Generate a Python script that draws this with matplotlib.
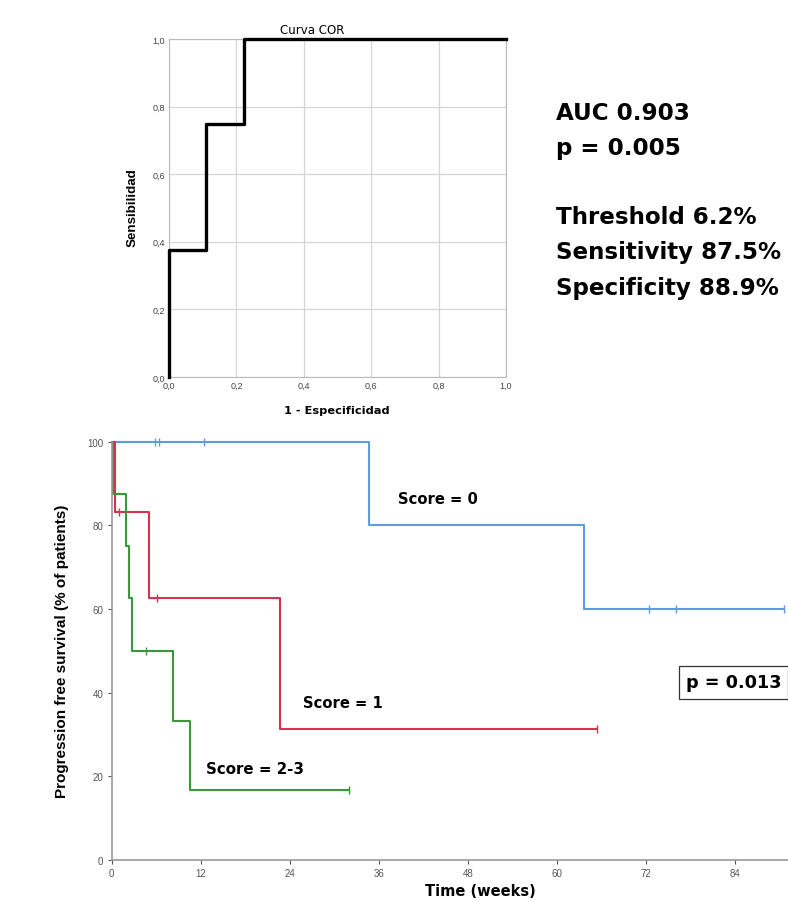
import matplotlib

matplotlib.use("Agg")
import matplotlib.pyplot as plt

plt.rcParams["font.family"] = ["Liberation Sans", "DejaVu Sans"]
WIDE = ["DejaVu Sans"]  # horizontal texts in the source look stretched sideways

# ROC curve (steps)
roc_fpr = [0.0, 0.0, 0.111, 0.111, 0.222, 0.222, 1.0]
roc_tpr = [0.0, 0.375, 0.375, 0.75, 0.75, 1.0, 1.0]
roc_ticks = [0.0, 0.2, 0.4, 0.6, 0.8, 1.0]
roc_ticklabels = ["0,0", "0,2", "0,4", "0,6", "0,8", "1,0"]
roc_stats = ["AUC 0.903", "p = 0.005", "", "Threshold 6.2%",
             "Sensitivity 87.5%", "Specificity 88.9%"]

# Kaplan-Meier curves: step start times and survival levels (%)
score0_t = [0, 34.7, 63.7, 90.6]
score0_s = [100, 80, 60, 60]
score0_cens_t = [5.8, 6.4, 12.4, 72.4, 76.1, 90.6]
score0_cens_s = [100, 100, 100, 60, 60, 60]

score1_t = [0, 0.5, 5.0, 22.7, 65.4]
score1_s = [100, 83.3, 62.5, 31.25, 31.25]
score1_cens_t = [1.0, 6.1, 65.4]
score1_cens_s = [83.3, 62.5, 31.25]

score23_t = [0, 0.2, 1.9, 2.3, 2.8, 8.2, 10.5, 32.0]
score23_s = [100, 87.5, 75, 62.5, 50, 33.3, 16.7, 16.7]
score23_cens_t = [4.6, 32.0]
score23_cens_s = [50, 16.7]

km_xticks = [0, 12, 24, 36, 48, 60, 72, 84]
km_yticks = [0, 20, 40, 60, 80, 100]

W, H = 788, 903
fig = plt.figure(figsize=(W / 100, H / 100), dpi=100)


def frac(x0, y0, x1, y1):
    return [x0 / W, 1 - y1 / H, (x1 - x0) / W, (y1 - y0) / H]


# ---- ROC panel
ax1 = fig.add_axes(frac(169, 40, 506, 378))
ax1.plot(roc_fpr, roc_tpr, color="black", lw=2.4, clip_on=False, zorder=3)
ax1.set_xlim(0, 1)
ax1.set_ylim(0, 1)
ax1.set_xticks(roc_ticks)
ax1.set_xticklabels(roc_ticklabels)
ax1.set_yticks(roc_ticks)
ax1.set_yticklabels(roc_ticklabels)
ax1.tick_params(labelsize=6.5, length=0, pad=3, colors="#444444")
ax1.grid(True, color="#d6d6d6", lw=0.9)
for s in ax1.spines.values():
    s.set_color("#bbbbbb")
fig.text(337 / W, 1 - 411 / H, "1 - Especificidad", fontsize=8.2, fontweight="bold",
         family=WIDE, ha="center", va="center")
fig.text(133 / W, 1 - 208 / H, "Sensibilidad", fontsize=9.6, fontweight="bold",
         rotation=90, ha="center", va="center")
fig.text(312 / W, 1 - 30 / H, "Curva COR", fontsize=8.5, family=WIDE,
         ha="center", va="center")

y = 113
for line in roc_stats:
    if line:
        fig.text(556 / W, 1 - y / H, line, fontsize=16.6, fontweight="bold",
                 family=WIDE, ha="left", va="center")
    y += 35

# ---- Kaplan-Meier panel
ax2 = fig.add_axes(frac(111.7, 442.7, 788, 860.7))
curves = [
    (score0_t, score0_s, score0_cens_t, score0_cens_s, "#5b9ce3"),
    (score1_t, score1_s, score1_cens_t, score1_cens_s, "#d9304f"),
    (score23_t, score23_s, score23_cens_t, score23_cens_s, "#3a983a"),
]
for t, s, ct, cs, c in curves:
    ax2.step(t, s, where="post", color=c, lw=1.5, clip_on=False)
    ax2.plot(ct, cs, ls="none", marker="|", ms=6, mew=1.0, color=c, clip_on=False)

ax2.set_xlim(0, (W - 111.7) / 7.42)
ax2.set_ylim(0, 100)
ax2.set_xticks(km_xticks)
ax2.set_yticks(km_yticks)
ax2.tick_params(labelsize=7, length=3, colors="#555555", pad=3)
for side in ["top", "right"]:
    ax2.spines[side].set_visible(False)
for side in ["left", "bottom"]:
    ax2.spines[side].set_color("#999999")
    ax2.spines[side].set_linewidth(1.2)
fig.text(62 / W, 1 - 651 / H, "Progression free survival (% of patients)",
         fontsize=11, fontweight="bold", rotation=90, ha="center", va="center")

ax2.text(44, 86.5, "Score = 0", fontsize=10.6, fontweight="bold", family=WIDE,
         ha="center", va="center")
ax2.text(31.2, 37.5, "Score = 1", fontsize=10.6, fontweight="bold", family=WIDE,
         ha="center", va="center")
ax2.text(19.3, 21.7, "Score = 2-3", fontsize=10.8, fontweight="bold", family=WIDE,
         ha="center", va="center")
ax2.text(83.8, 42.4, "p = 0.013", fontsize=12.7, fontweight="bold", family=WIDE,
         ha="center", va="center",
         bbox=dict(boxstyle="square,pad=0.4", fc="white", ec="#333333", lw=0.9))

fig.text(480 / W, 1 - 892 / H, "Time (weeks)", fontsize=10.5, fontweight="bold",
         family=WIDE, ha="center", va="center")

fig.savefig("out.png", dpi=100)
